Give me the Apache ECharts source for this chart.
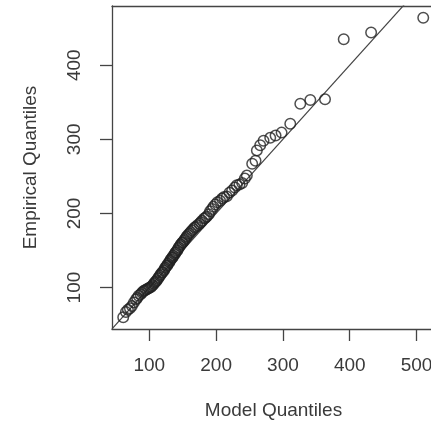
<!DOCTYPE html>
<html>
<head>
<meta charset="utf-8">
<script src="https://cdn.jsdelivr.net/npm/echarts@6/dist/echarts.min.js"></script>
<style>html,body{margin:0;padding:0;background:#fff;overflow:hidden;}#c{width:431px;height:422px;}</style>
</head>
<body>
<div id="c"></div>
<script>
// Model (theoretical) quantiles
const modelQuantiles = [61,65,68,71,74,77,80,82,84,87,89,91,93,95,97,99,101,103,105,107,108,110,111,113,114,116,117,119,120,122,123,124,126,127,128,130,131,132,134,135,136,138,139,140,142,143,144,146,147,149,150,152,153,155,156,158,160,162,164,166,168,170,172,175,177,179,182,184,186,189,191,194,196,199,202,206,209,212,216,220,224,228,231,235,239,243,246,254,259,261,266,271,281,289,298,311,326,341,363,391,432,510];
// Empirical (sample) quantiles
const empiricalQuantiles = [60,67,70,72,75,80,84,86,89,91,93,95,96,97,98,99,100,101,103,105,107,108,110,112,114,116,118,120,121,123,125,127,129,130,132,134,136,138,140,141,143,145,147,148,150,152,154,156,158,160,161,163,165,167,169,171,173,175,177,179,181,182,184,186,188,190,193,194,196,199,203,206,209,212,215,217,220,222,223,228,231,235,238,239,241,247,251,267,271,285,292,298,302,305,309,321,348,353,354,435,444,464];
const xTicks = [100,200,300,400,500];
const yTicks = [100,200,300,400];
const lineIntercept = 0;
const lineSlope = 1;
const xRange = [44.2, 527.6];
const yRange = [44.1, 479.8];

const pts = modelQuantiles.map((x,i)=>[x, empiricalQuantiles[i]]);
const lineData = [[xRange[0], lineIntercept + lineSlope*xRange[0]], [xRange[1], lineIntercept + lineSlope*xRange[1]]];

const chart = echarts.init(document.getElementById('c'), null, {renderer:'canvas'});
const fontFamily = '"Liberation Sans", Arial, sans-serif';
const txt = '#3a3a3a';
const frame = {color:'#444', width:1.3};
chart.setOption({
  backgroundColor:'#fff',
  animation:false,
  grid:{left:112, top:6, width:323, height:323, show:false, containLabel:false, outerBoundsMode:'none'},
  xAxis:[{
    type:'value', min:xRange[0], max:xRange[1], position:'bottom',
    name:'Model Quantiles', nameLocation:'middle', nameGap:72,
    nameTextStyle:{color:txt, fontSize:19, fontFamily},
    axisLine:{show:true, onZero:false, lineStyle:frame},
    splitLine:{show:false},
    axisTick:{show:true, inside:false, length:12, lineStyle:frame, customValues:xTicks},
    axisLabel:{show:true, margin:27, color:txt, fontSize:19, fontFamily, customValues:xTicks}
  },{
    type:'value', min:xRange[0], max:xRange[1], position:'top',
    axisLine:{show:true, onZero:false, lineStyle:frame},
    splitLine:{show:false}, axisTick:{show:false}, axisLabel:{show:false}
  }],
  yAxis:{
    type:'value', min:yRange[0], max:yRange[1],
    name:'Empirical Quantiles', nameLocation:'middle', nameGap:72, nameRotate:90,
    nameTextStyle:{color:txt, fontSize:19, fontFamily},
    axisLine:{show:true, onZero:false, lineStyle:frame},
    splitLine:{show:false},
    axisTick:{show:true, inside:false, length:12, lineStyle:frame, customValues:yTicks},
    axisLabel:{show:true, margin:28, rotate:90, color:txt, fontSize:19, fontFamily, customValues:yTicks}
  },
  series:[
    {type:'line', data:lineData, symbol:'none', clip:true, lineStyle:{color:'#444', width:1.2}, silent:true, z:1},
    {type:'scatter', data:pts, symbol:'circle', symbolSize:10.5, clip:false,
     itemStyle:{color:'rgba(0,0,0,0)', borderColor:'#222', borderWidth:1.5}, z:2}
  ]
});
</script>
</body>
</html>
